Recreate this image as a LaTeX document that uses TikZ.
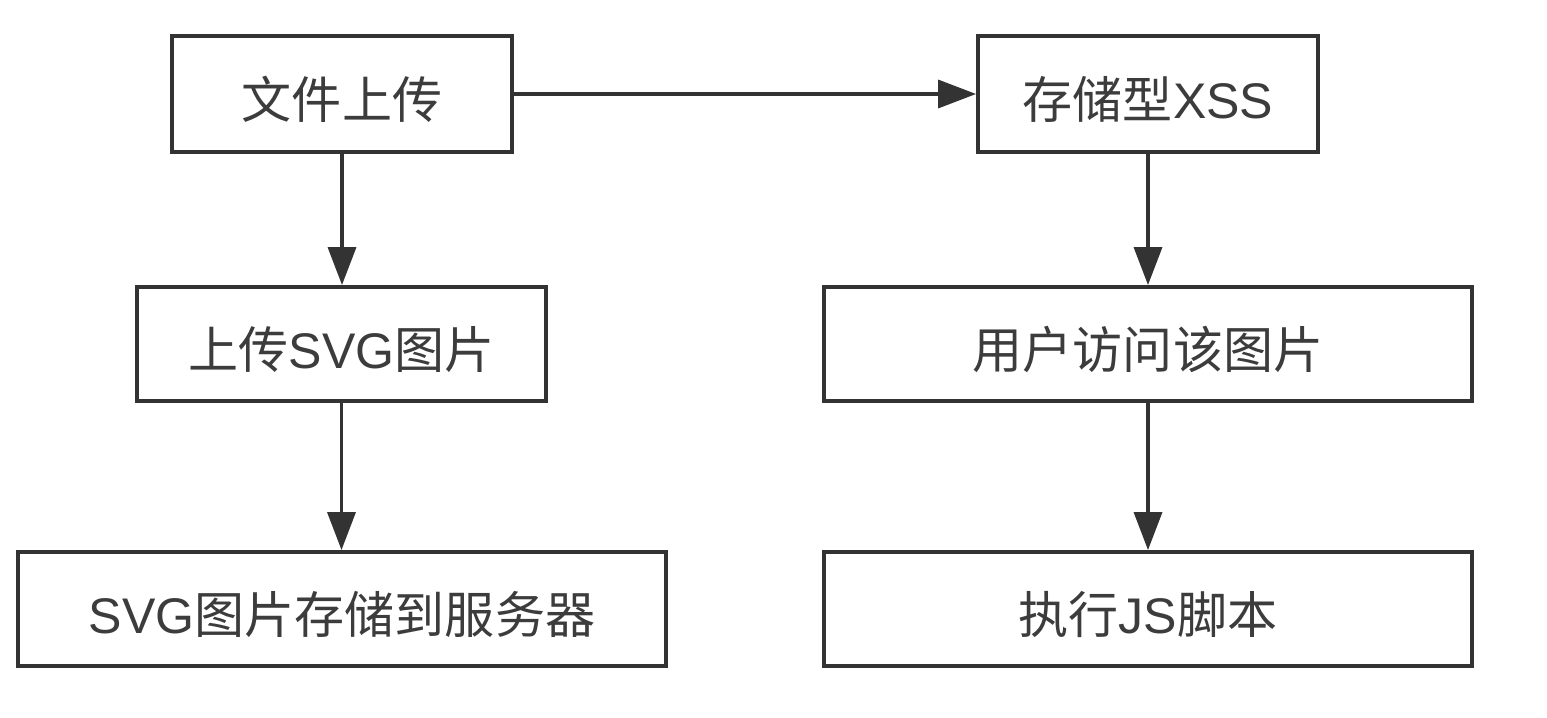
\documentclass[tikz,border=0pt]{standalone}
\usepackage{fontspec}
\setmainfont{Noto Sans CJK SC}
\newfontfamily\lat{Liberation Sans}
\usetikzlibrary{arrows.meta}
\definecolor{ink}{HTML}{333333}
\definecolor{txt}{HTML}{3C3C3C}
\begin{document}
\begin{tikzpicture}[x=0.02cm,y=-0.02cm,
  box/.style={draw=ink,line width=2.2pt,fill=white,inner sep=0pt},
  lbl/.style={text=txt,inner sep=0pt,font=\fontsize{28.5pt}{32pt}\selectfont},
  conn/.style={draw=ink,line width=2pt,-{Triangle[length=0.76cm,width=0.56cm]}}]
\useasboundingbox (0,0) rectangle (1547,717);
\node[box,minimum width=340*0.02cm,minimum height=116*0.02cm] (a) at (342,94) {};
\node[box,minimum width=340*0.02cm,minimum height=116*0.02cm] (b) at (1148,94) {};
\node[box,minimum width=409*0.02cm,minimum height=114*0.02cm] (c) at (341.5,344) {};
\node[box,minimum width=648*0.02cm,minimum height=114*0.02cm] (d) at (1148,344) {};
\node[box,minimum width=648*0.02cm,minimum height=114*0.02cm] (e) at (342,609) {};
\node[box,minimum width=648*0.02cm,minimum height=114*0.02cm] (f) at (1148,609) {};
\node[lbl] (ta) at ([yshift=-0.11cm]a.center) {文件上传};
\node[lbl] (tb) at ([yshift=-0.11cm]b.center) {存储型{\lat XSS}};
\node[lbl] (tc) at ([yshift=-0.11cm]c.center) {上传{\lat SVG}图片};
\node[lbl] (td) at ([yshift=-0.11cm]d.center) {用户访问该图片};
\node[lbl] (te) at ([yshift=-0.11cm]e.center) {{\lat SVG}图片存储到服务器};
\node[lbl] (tf) at ([yshift=-0.11cm]f.center) {执行{\lat JS}脚本};
\draw[conn] (a) -- (b);
\draw[conn] (a) -- (a|-c.north);
\draw[conn] (c) -- (c|-e.north);
\draw[conn] (b) -- (d);
\draw[conn] (d) -- (f);
\end{tikzpicture}
\end{document}
